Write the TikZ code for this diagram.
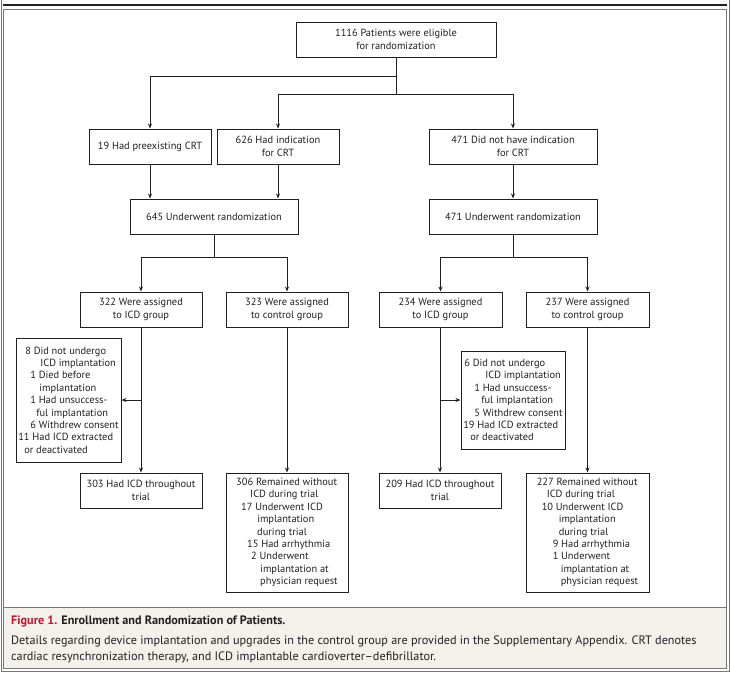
\documentclass[tikz,border=0pt]{standalone}
\usepackage{fontspec}
\setmainfont{PT Sans}
\usetikzlibrary{arrows.meta}
\definecolor{frame}{HTML}{777777}
\definecolor{capbg}{HTML}{F4F0EB}
\definecolor{figred}{HTML}{C4122F}
\definecolor{ink}{HTML}{231F20}
\tikzset{
  box/.style={draw=ink, line width=1pt, inner sep=0pt, align=center, font=\fontsize{10.4}{12.4}\selectfont, text=ink},
  lbox/.style={box, align=left},
  capline/.style={anchor=base west, inner sep=0pt, font=\fontsize{12.2}{16}\selectfont, text=ink},
  arr/.style={draw=ink, line width=1pt, -{Stealth[length=5pt,width=4pt]}},
  ln/.style={draw=ink, line width=1pt},
}
\newcommand{\ind}[1]{\hspace*{#1pt}}
\begin{document}
\begin{tikzpicture}[x=1pt,y=-1pt]
\useasboundingbox (0,0) rectangle (730,672);
% frame
\fill[white] (0,0) rectangle (730,672);
\draw[frame, line width=1pt] (1,0) -- (1,671.5) -- (729,671.5) -- (729,0);
\draw[ink, line width=1.4pt] (3,5) -- (727,5);
\draw[frame, line width=0.9pt] (3.5,9) rectangle (726,668.5);
\fill[capbg] (4,607) rectangle (725.5,668);
\draw[frame, line width=0.9pt] (3.5,607) -- (726,607);
% caption
\node[capline] (cap1) at (11,624) {\textbf{\textcolor{figred}{Figure 1.} Enrollment and Randomization of Patients.}};
\node[capline] (cap2) at (11,644) {Details regarding device implantation and upgrades in the control group are provided in the Supplementary Appendix. CRT denotes};
\node[capline] (cap3) at (11,660) {cardiac resynchronization therapy, and ICD implantable cardioverter--defibrillator.};
% boxes
\node[box, minimum width=200, minimum height=35] (top) at (396,39.5) {1116 Patients were eligible\\for randomization};
\node[box, minimum width=122, minimum height=35] (pre) at (150,146.5) {19 Had preexisting CRT};
\node[box, minimum width=122, minimum height=35] (ind) at (278,146.5) {626 Had indication\\for CRT};
\node[box, minimum width=168, minimum height=35] (noind) at (513,146.5) {471 Did not have indication\\for CRT};
\node[box, minimum width=168, minimum height=35] (r1) at (214,216.5) {645 Underwent randomization};
\node[box, minimum width=168, minimum height=35] (r2) at (513,216.5) {471 Underwent randomization};
\node[box, minimum width=122, minimum height=35] (a1) at (141,309.5) {322 Were assigned\\to ICD group};
\node[box, minimum width=122, minimum height=35] (c1) at (287,309.5) {323 Were assigned\\to control group};
\node[box, minimum width=123, minimum height=35] (a2) at (440.5,309.5) {234 Were assigned\\to ICD group};
\node[box, minimum width=123, minimum height=35] (c2) at (587.5,309.5) {237 Were assigned\\to control group};
\node[lbox, minimum width=105, minimum height=124] (ex1) at (68.5,400) {\ind{7}8 Did not undergo\\\ind{22}ICD implantation\\\ind{12}1 Died before\\\ind{21}implantation\\\ind{12}1 Had unsuccess-\\\ind{18}ful implantation\\\ind{12}6 Withdrew consent\\11 Had ICD extracted\\\ind{6}or deactivated};
\node[lbox, minimum width=104, minimum height=98] (ex2) at (513,400) {\ind{1}6 Did not undergo\\\ind{22}ICD implantation\\\ind{11}1 Had unsuccess-\\\ind{18}ful implantation\\\ind{11}5 Withdrew consent\\19 Had ICD extracted\\\ind{7}or deactivated};
\node[box, minimum width=122, minimum height=35] (h1) at (141,490.5) {303 Had ICD throughout\\trial};
\node[box, minimum width=122, minimum height=35] (h2) at (440,490.5) {209 Had ICD throughout\\trial};
\node[lbox, minimum width=122, minimum height=119] (rm1) at (287,532.5) {306 Remained without\\\ind{14}ICD during trial\\\ind{5}17 Underwent ICD\\\ind{21}implantation\\\ind{21}during trial\\\ind{11}15 Had arrhythmia\\\ind{15}2 Underwent\\\ind{24}implantation at\\\ind{24}physician request};
\node[lbox, minimum width=123, minimum height=119] (rm2) at (587.5,532.5) {227 Remained without\\\ind{10}ICD during trial\\\ind{5}10 Underwent ICD\\\ind{22}implantation\\\ind{22}during trial\\\ind{16}9 Had arrhythmia\\\ind{16}1 Underwent\\\ind{24}implantation at\\\ind{24}physician request};
% junctions
\coordinate (j1) at (396,76);
\coordinate (j2) at (396,94);
\coordinate (s1) at (214,257);
\coordinate (s2) at (513,257);
% connectors
\draw[ln] (top.south) -- (j2);
\draw[arr] (j1) -| (pre.north);
\draw[arr] (j2) -| (ind.north);
\draw[arr] (j2) -| (noind.north);
\draw[arr] (pre.south) -- (pre.south |- r1.north);
\draw[arr] (ind.south) -- (ind.south |- r1.north);
\draw[arr] (noind.south) -- (r2.north);
\draw[ln] (r1.south) -- (s1);
\draw[arr] (s1) -| (a1.north);
\draw[arr] (s1) -| (c1.north);
\draw[ln] (r2.south) -- (s2);
\draw[arr] (s2) -| (a2.north);
\draw[arr] (s2) -| (c2.north);
\draw[arr] (a1.south) -- (h1.north);
\draw[arr] (a1.south |- ex1.east) -- (ex1.east);
\draw[arr] (c1.south) -- (rm1.north);
\draw[arr] (a2.south -| h2.north) -- (h2.north);
\draw[arr] (h2.north |- ex2.west) -- (ex2.west);
\draw[arr] (c2.south) -- (rm2.north);
\end{tikzpicture}
\end{document}
